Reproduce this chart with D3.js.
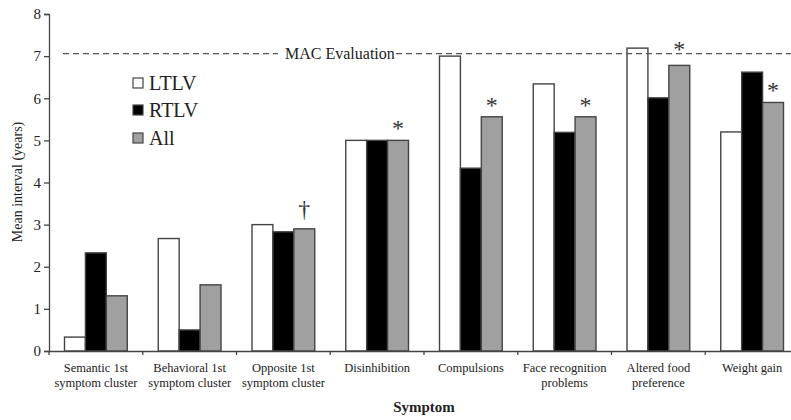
<!DOCTYPE html>
<html><head><meta charset="utf-8">
<script src="https://cdn.jsdelivr.net/npm/d3@7"></script>
<style>
html,body{margin:0;padding:0;background:#fff;}
svg{display:block;}
svg text{font-family:"Liberation Serif","Times New Roman",serif;}
</style></head>
<body>
<svg id="chart" width="791" height="420"></svg>
<script>
const categories = [
  ["Semantic 1st","symptom cluster"],
  ["Behavioral 1st","symptom cluster"],
  ["Opposite 1st","symptom cluster"],
  ["Disinhibition"],
  ["Compulsions"],
  ["Face recognition","problems"],
  ["Altered food","preference"],
  ["Weight gain"]
];
const seriesNames = ["LTLV","RTLV","All"];
const ltlv = [0.33, 2.67, 3.0, 5.0, 7.0, 6.34, 7.19, 5.2];
const rtlv = [2.33, 0.5, 2.83, 5.0, 4.34, 5.19, 6.01, 6.62];
const all  = [1.31, 1.57, 2.9, 5.0, 5.56, 5.56, 6.78, 5.9];
const yTicks = [0,1,2,3,4,5,6,7,8];
const macValue = 7.06;
const macLabel = "MAC Evaluation";
const markers = ["", "", "\u2020", "*", "*", "*", "*", "*"];
const yTitle = "Mean interval (years)";
const xTitle = "Symptom";

const FONT = "'Liberation Serif','Times New Roman',serif";
const fills = ["#ffffff","#000000","#a0a0a0"];
const values = [ltlv, rtlv, all];
const svg = d3.select("#chart");
const catKeys = categories.map(c => c.join(" "));

const y = d3.scaleLinear().domain([0,8]).range([351,14]);
const x0 = d3.scaleBand().domain(catKeys).range([49, 799]).padding(0);
const x1 = d3.scaleBand().domain(seriesNames).range([15.5, x0.bandwidth()-15.5]).padding(0);

// bars
const g = svg.append("g");
catKeys.forEach((k, i) => {
  seriesNames.forEach((s, j) => {
    const v = values[j][i];
    g.append("rect")
      .attr("x", x0(k) + x1(s))
      .attr("y", y(v))
      .attr("width", x1.bandwidth())
      .attr("height", y(0) - y(v))
      .attr("fill", fills[j])
      .attr("stroke", "#444")
      .attr("stroke-width", 1.4);
  });
});

// y axis
const yAxis = svg.append("g").attr("transform","translate(49,0)")
  .call(d3.axisLeft(y).tickValues(yTicks).tickSize(5).tickPadding(3).tickFormat(d3.format("d")));
yAxis.attr("font-family", FONT);
yAxis.select(".domain").attr("stroke","#444").attr("stroke-width",1.3);
yAxis.selectAll(".tick line").attr("stroke","#444").attr("stroke-width",1.3);
yAxis.selectAll("text").attr("font-size",15).attr("fill","#222").attr("font-family",FONT);

// x axis
const xAxis = svg.append("g").attr("transform",`translate(0,${y(0)})`)
  .call(d3.axisBottom(x0).tickSize(0).tickFormat(""));
xAxis.select(".domain").attr("stroke","#444").attr("stroke-width",1.3);
catKeys.forEach(k => {
  svg.append("line").attr("x1", x0(k)).attr("x2", x0(k))
    .attr("y1", y(0)).attr("y2", y(0)+4)
    .attr("stroke","#444").attr("stroke-width",1.3);
});
categories.forEach((lines, i) => {
  const cx = x0(catKeys[i]) + x0.bandwidth()/2;
  const t = svg.append("text").attr("x", cx).attr("y", 372)
    .attr("text-anchor","middle").attr("font-size",12.5).attr("fill","#222").attr("font-family",FONT);
  lines.forEach((ln, li) => {
    t.append("tspan").attr("x", cx).attr("dy", li === 0 ? 0 : 15).text(ln);
  });
});

// MAC line
const macY = y(macValue);
svg.append("line").attr("x1",63).attr("x2",278).attr("y1",macY).attr("y2",macY)
  .attr("stroke","#555").attr("stroke-width",1.3).attr("stroke-dasharray","6,4");
svg.append("line").attr("x1",396).attr("x2",791).attr("y1",macY).attr("y2",macY)
  .attr("stroke","#555").attr("stroke-width",1.3).attr("stroke-dasharray","6,4");
svg.append("text").attr("x",285).attr("y",macY+5).attr("font-size",16).attr("fill","#222")
  .attr("font-family",FONT).text(macLabel);

// markers
markers.forEach((m, i) => {
  if (!m) return;
  const cx = x0(catKeys[i]) + x1("All") + x1.bandwidth()/2;
  const groupMax = Math.max(ltlv[i], rtlv[i], all[i]);
  let cy = y(all[i]) - 14;
  if (groupMax > macValue) cy = macY - 7;
  if (m === "*") {
    svg.append("text").attr("x", cx).attr("y", cy + 10).attr("text-anchor","middle")
      .attr("font-size",24).attr("fill","#333").attr("font-family",FONT).text(m);
  } else {
    svg.append("text").attr("x", cx).attr("y", cy + 2).attr("text-anchor","middle")
      .attr("font-size",24).attr("fill","#333").attr("font-family",FONT).text(m);
  }
});

// legend
const legY = [83, 110, 138];
seriesNames.forEach((s, j) => {
  svg.append("rect").attr("x",133).attr("y",legY[j]-5).attr("width",10).attr("height",10)
    .attr("fill",fills[j]).attr("stroke","#444").attr("stroke-width",1.2);
  svg.append("text").attr("x",149).attr("y",legY[j]+7).attr("font-size",20).attr("fill","#222")
    .attr("font-family",FONT).text(s);
});

// titles
svg.append("text").attr("transform","translate(22,182) rotate(-90)")
  .attr("text-anchor","middle").attr("font-size",14).attr("fill","#222").attr("font-family",FONT).text(yTitle);
svg.append("text").attr("x",424).attr("y",412).attr("text-anchor","middle")
  .attr("font-size",15).attr("font-weight","bold").attr("fill","#222").attr("font-family",FONT).text(xTitle);
</script>
</body></html>
